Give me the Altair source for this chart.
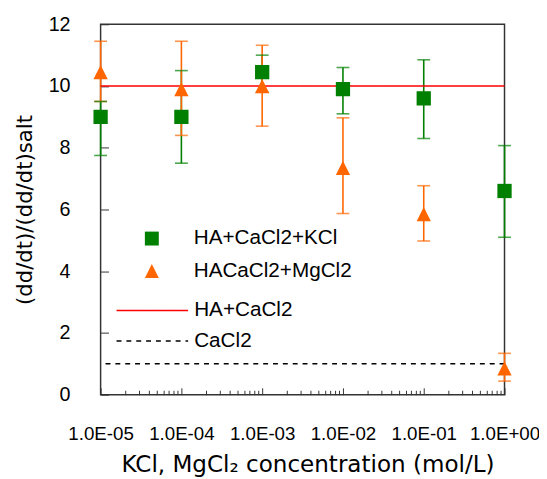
import json
import math
import altair as alt
import pandas as pd

# ---- data ----
conc = [1e-5, 1e-4, 1e-3, 1e-2, 1e-1, 1.0]

kcl_name = "HA+CaCl2+KCl"
kcl_mean = [9.0, 9.0, 10.45, 9.9, 9.6, 6.6]
kcl_lo = [7.75, 7.5, 9.8, 9.1, 8.3, 5.1]
kcl_hi = [9.5, 10.5, 11.0, 10.6, 10.85, 8.07]

mg_name = "HACaCl2+MgCl2"
mg_mean = [10.45, 9.9, 10.0, 7.35, 5.85, 0.85]
mg_lo = [9.5, 8.4, 8.7, 5.87, 4.98, 0.44]
mg_hi = [11.45, 11.45, 11.32, 8.97, 6.77, 1.34]

point_series = [kcl_name, mg_name]
point_colors = ["#008000", "#FF6600"]
point_shapes = ["square", "M0,-1L1,1L-1,1Z"]

line_series = ["HA+CaCl2", "CaCl2"]
line_values = [10.0, 1.0]
line_colors = ["#FF0000", "#000000"]
line_dashes = [[1, 0], [5, 5]]

x_ticks = [1e-5, 1e-4, 1e-3, 1e-2, 1e-1, 1.0]
x_tick_labels = ["1.0E-05", "1.0E-04", "1.0E-03", "1.0E-02", "1.0E-01", "1.0E+00"]
x_minor_mult = [1, 2, 3, 4, 5, 6, 7, 8, 9]
y_ticks = [0, 2, 4, 6, 8, 10, 12]

x_title = "KCl, MgCl\u2082 concentration (mol/L)"
y_title = "(dd/dt)/(dd/dt)salt"

LABEL_FONT = "Liberation Sans"
TITLE_FONT = "DejaVu Sans"
W, H = 410, 376

# ---- tables ----
rows = []
for name, m, lo, hi in [(kcl_name, kcl_mean, kcl_lo, kcl_hi), (mg_name, mg_mean, mg_lo, mg_hi)]:
    for c, a, b, d in zip(conc, m, lo, hi):
        rows.append({"conc": c, "series": name, "mean": a, "lo": b, "hi": d})
df = pd.DataFrame(rows)
df_lines = pd.DataFrame({"line": line_series, "value": line_values})

x_all_ticks = [m * t for t in x_ticks[:-1] for m in x_minor_mult] + [x_ticks[-1]]

xscale = alt.Scale(type="log", domain=[x_ticks[0], x_ticks[-1]], nice=False)
yscale = alt.Scale(domain=[y_ticks[0], y_ticks[-1]], nice=False)
color_scale = alt.Scale(domain=point_series, range=point_colors)
bar_color = alt.condition(alt.datum.series == kcl_name, alt.value(point_colors[0]), alt.value(point_colors[1]))

offset = -round(math.log10(x_ticks[0]))
label_expr = json.dumps(x_tick_labels) + f"[round(log(datum.value)/LN10)+{offset}]"

x_main_axis = alt.Axis(values=x_ticks, labelExpr=label_expr, ticks=False, domain=False, grid=False,
                       labelPadding=30, labelFontSize=19, labelFont=LABEL_FONT, labelColor="black",
                       titleFont=TITLE_FONT, titleFontSize=23.4, titleFontWeight="normal", titleColor="black",
                       titlePadding=11, titleX=210, labelFlush=False)
y_main_axis = alt.Axis(values=y_ticks, ticks=False, domain=False, grid=False,
                       labelPadding=31, labelFontSize=20, labelFont=LABEL_FONT, labelColor="black",
                       titleFont=TITLE_FONT, titleFontSize=21.5, titleFontWeight="normal", titleColor="black",
                       titlePadding=12)

err = alt.Chart(df).mark_rule(strokeWidth=1.6).encode(
    x=alt.X("conc:Q", scale=xscale, axis=x_main_axis, title=x_title),
    y=alt.Y("lo:Q", scale=yscale, axis=y_main_axis, title=y_title),
    y2="hi:Q",
    color=bar_color,
)
cap_lo = alt.Chart(df).mark_tick(orient="horizontal", size=13, thickness=1.6).encode(
    x=alt.X("conc:Q", scale=xscale, axis=None),
    y=alt.Y("lo:Q", scale=yscale, axis=None),
    color=bar_color,
)
cap_hi = alt.Chart(df).mark_tick(orient="horizontal", size=13, thickness=1.6).encode(
    x=alt.X("conc:Q", scale=xscale, axis=None),
    y=alt.Y("hi:Q", scale=yscale, axis=None),
    color=bar_color,
)

line_legend = alt.Legend(orient="none", legendX=42, legendY=280, title=None, symbolType="M-5,0H5",
                         symbolSize=211, symbolStrokeWidth=1.5, labelOffset=32, rowPadding=9,
                         labelFont=LABEL_FONT, labelFontSize=21, labelColor="black", padding=0,
                         labelLimit=400)
ref = alt.Chart(df_lines).mark_rule(strokeWidth=1.5).encode(
    y=alt.Y("value:Q", scale=yscale, axis=None),
    stroke=alt.Stroke("line:N", scale=alt.Scale(domain=line_series, range=line_colors), legend=line_legend),
    strokeDash=alt.StrokeDash("line:N", scale=alt.Scale(domain=line_series, range=line_dashes), legend=line_legend),
)

pt_legend = alt.Legend(orient="none", legendX=41.5, legendY=207, title=None, symbolSize=200,
                       symbolStrokeWidth=0, labelOffset=32, rowPadding=11,
                       labelFont=LABEL_FONT, labelFontSize=21, labelColor="black", padding=0,
                       labelLimit=400)
points = alt.Chart(df).mark_point(filled=True, size=210, opacity=1, strokeWidth=0).encode(
    x=alt.X("conc:Q", scale=xscale, axis=None),
    y=alt.Y("mean:Q", scale=yscale, axis=None),
    color=alt.Color("series:N", scale=color_scale, legend=pt_legend),
    shape=alt.Shape("series:N", scale=alt.Scale(domain=point_series, range=point_shapes), legend=pt_legend),
)

major_test = "abs(log(datum.value)/LN10 - round(log(datum.value)/LN10)) < 0.001"
tick_layer = alt.Chart(df).mark_point(opacity=0).encode(
    x=alt.X("conc:Q", scale=xscale, title=None,
            axis=alt.Axis(orient="top", offset=-H, values=x_all_ticks, labels=False, domain=False,
                          grid=False, ticks=True, tickColor="#333333", tickWidth=1,
                          tickSize={"condition": {"test": major_test, "value": 7}, "value": 4.5})),
    y=alt.Y("mean:Q", scale=yscale, title=None,
            axis=alt.Axis(orient="right", offset=-W, values=y_ticks, labels=False, domain=False,
                          grid=False, ticks=True, tickColor="#333333", tickWidth=1, tickSize=8)),
)

chart = alt.layer(err, cap_lo, cap_hi, ref, points, tick_layer).resolve_axis(
    x="independent", y="independent"
).properties(
    width=W, height=H,
    autosize=alt.AutoSizeParams(type="none"),
    padding={"left": 94, "top": 13, "right": 35, "bottom": 80},
    background="white",
).configure_view(stroke="#333333", strokeWidth=1.5)

chart.save("out.html", embed_options={"renderer": "svg", "actions": False})
